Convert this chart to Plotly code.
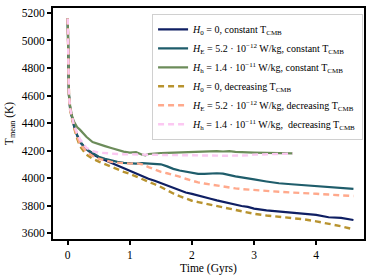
import plotly.graph_objects as go

t_long = [0, 0.005, 0.01, 0.02, 0.04, 0.07, 0.1, 0.15, 0.2, 0.3, 0.4, 0.5, 0.6, 0.7, 0.8, 0.9,
          1.0, 1.1, 1.2, 1.3, 1.4, 1.5, 1.6, 1.7, 1.8, 1.9, 2.0, 2.1, 2.2, 2.3, 2.4, 2.5, 2.6,
          2.7, 2.8, 2.9, 3.0, 3.2, 3.4, 3.6, 3.8, 4.0, 4.2, 4.4, 4.6]
t_short = [0, 0.005, 0.01, 0.02, 0.04, 0.07, 0.1, 0.15, 0.2, 0.3, 0.4, 0.5, 0.6, 0.7, 0.8, 0.9,
           1.0, 1.1, 1.2, 1.25, 1.3, 1.4, 1.5, 1.6, 1.7, 1.8, 1.9, 2.0, 2.1, 2.2, 2.3, 2.4, 2.5,
           2.6, 2.7, 2.8, 2.9, 3.0, 3.2, 3.4, 3.62]

h0_const = [5160, 4850, 4700, 4600, 4500, 4430, 4380, 4310, 4260, 4210, 4175, 4150, 4130, 4110,
            4090, 4070, 4055, 4035, 4015, 3995, 3980, 3963, 3945, 3925, 3910, 3895, 3885, 3875,
            3862, 3850, 3838, 3827, 3815, 3805, 3797, 3790, 3778, 3765, 3757, 3748, 3740, 3732,
            3715, 3710, 3695]
he_const = [5160, 4850, 4700, 4600, 4500, 4430, 4385, 4315, 4265, 4210, 4180, 4155, 4140, 4128,
            4118, 4110, 4105, 4105, 4108, 4105, 4103, 4100, 4085, 4067, 4055, 4045, 4038, 4030,
            4030, 4033, 4035, 4032, 4020, 4012, 4005, 4000, 3990, 3975, 3962, 3955, 3948, 3940,
            3935, 3930, 3922]
h0_decr = [5160, 4850, 4700, 4590, 4490, 4420, 4370, 4290, 4230, 4170, 4140, 4120, 4100, 4080,
           4065, 4045, 4030, 4012, 3995, 3975, 3955, 3935, 3910, 3888, 3868, 3850, 3835, 3825,
           3815, 3805, 3795, 3785, 3775, 3765, 3757, 3750, 3740, 3728, 3720, 3710, 3700, 3685,
           3670, 3650, 3627]
he_decr = [5160, 4850, 4700, 4600, 4500, 4430, 4380, 4305, 4250, 4190, 4160, 4140, 4128, 4118,
           4112, 4108, 4105, 4108, 4100, 4080, 4060, 4045, 4035, 4025, 4010, 3995, 3980, 3968,
           3960, 3952, 3945, 3940, 3932, 3925, 3920, 3916, 3912, 3905, 3900, 3895, 3892, 3886,
           3880, 3875, 3869]
hh_const = [5160, 4850, 4700, 4610, 4520, 4450, 4410, 4370, 4350, 4300, 4262, 4245, 4232, 4218,
            4205, 4192, 4185, 4188, 4170, 4165, 4175, 4180, 4182, 4183, 4185, 4187, 4188, 4188,
            4190, 4195, 4197, 4195, 4193, 4195, 4190, 4187, 4185, 4185, 4183, 4182, 4180]
hh_decr = [5160, 4850, 4700, 4600, 4500, 4430, 4385, 4330, 4280, 4220, 4195, 4185, 4180, 4177,
           4175, 4173, 4173, 4174, 4172, 4170, 4170, 4169, 4168, 4168, 4168, 4167, 4166, 4165,
           4165, 4164, 4163, 4163, 4162, 4162, 4162, 4162, 4165, 4170, 4172, 4175, 4178]

labels = [
    "<i>H</i><sub>0</sub> = 0, constant T<sub>CMB</sub>",
    "<i>H</i><sub>E</sub> = 5.2 · 10<sup>−12</sup> W/kg, constant T<sub>CMB</sub>",
    "<i>H</i><sub>h</sub> = 1.4 · 10<sup>−11</sup> W/kg, constant T<sub>CMB</sub>",
    "<i>H</i><sub>0</sub> = 0, decreasing T<sub>CMB</sub>",
    "<i>H</i><sub>E</sub> = 5.2 · 10<sup>−12</sup> W/kg, decreasing T<sub>CMB</sub>",
    "<i>H</i><sub>h</sub> = 1.4 · 10<sup>−11</sup> W/kg,  decreasing T<sub>CMB</sub>",
]

series = [
    (t_long, h0_const, "#0f1f63", "solid", 2.2),
    (t_long, he_const, "#1f5d6b", "solid", 2.2),
    (t_short, hh_const, "#6c8c5a", "solid", 2.2),
    (t_long, h0_decr, "#b8932f", "6px,4px", 2.4),
    (t_long, he_decr, "#ffa98c", "6px,4px", 2.4),
    (t_short, hh_decr, "#fcc8f2", "6px,4px", 2.4),
]

fig = go.Figure()
for (x, y, c, d, w), name in zip(series, labels):
    fig.add_trace(go.Scatter(x=x, y=y, mode="lines", name=name,
                             line=dict(color=c, dash=d, width=w)))

font = "Liberation Serif, Times New Roman, serif"
fig.update_layout(
    width=374, height=280,
    margin=dict(l=53, r=10, t=6, b=41),
    plot_bgcolor="white", paper_bgcolor="white",
    font=dict(family=font, size=11.5, color="black"),
    showlegend=True,
    legend=dict(x=0.997, y=0.975, xanchor="right", yanchor="top",
                bgcolor="white", bordercolor="#d0d0d0", borderwidth=1,
                font=dict(family=font, size=10, color="black"),
                tracegroupgap=0, itemwidth=30),
    xaxis=dict(range=[-0.237, 4.77], tickvals=[0, 1, 2, 3, 4],
               showgrid=False, zeroline=False, showline=True, linecolor="black",
               linewidth=2, mirror=True, ticks="outside", ticklen=4, tickwidth=1.5,
               tickcolor="black", title=dict(text="Time (Gyrs)", standoff=4,
                                             font=dict(size=11.5))),
    yaxis=dict(range=[3557, 5236], tickvals=[3600, 3800, 4000, 4200, 4400, 4600, 4800, 5000, 5200],
               showgrid=False, zeroline=False, showline=True, linecolor="black",
               linewidth=2, mirror=True, ticks="outside", ticklen=4, tickwidth=1.5,
               tickcolor="black", title=dict(text="T<sub>mean</sub> (K)", standoff=6,
                                             font=dict(size=11.5))),
)

fig.write_html("out.html", config={"displayModeBar": False},
               post_script="document.body.style.margin='0';")
